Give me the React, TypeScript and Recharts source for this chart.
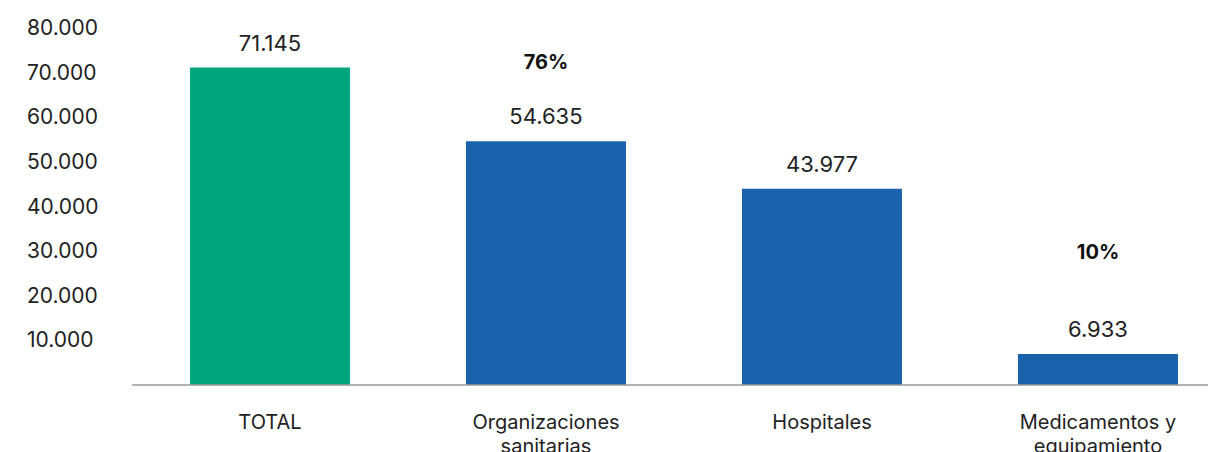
import { BarChart, Bar, XAxis, YAxis, Cell, LabelList, ReferenceDot } from 'recharts';

const categories = ['TOTAL', 'Organizaciones sanitarias', 'Hospitales', 'Medicamentos y equipamiento'];
const values = [71145, 54635, 43977, 6933];
const barColors = ['#00A67E', '#1B62AD', '#1B62AD', '#1B62AD'];
const yTicks = [10000, 20000, 30000, 40000, 50000, 60000, 70000, 80000];

// share labels, with the value height they sit at
const shareCats = ['Organizaciones sanitarias', 'Medicamentos y equipamiento'];
const shareLabels = ['76%', '10%'];
const shareLevels = [72400, 29800];

const data = categories.map((name, i) => ({ name, value: values[i] }));

const FONT = 'Inter, "Open Sans", sans-serif';
const fmt = (v: number) => v.toLocaleString('de-DE');

const YTick = (props: any) => {
  const { y, payload } = props;
  return (
    <text x={27} y={y} dy={7} fontSize={21} fill="#222" fontFamily={FONT} textAnchor="start">
      {fmt(payload.value)}
    </text>
  );
};

const XTick = (props: any) => {
  const { x, y, payload } = props;
  const label: string = payload.value;
  let lines = [label];
  if (label.length > 12 && label.includes(' ')) {
    const k = label.lastIndexOf(' ');
    lines = [label.slice(0, k), label.slice(k + 1)];
  }
  return (
    <g>
      {lines.map((l, i) => (
        <text key={i} x={x} y={y + 36 + i * 24} fontSize={20} fill="#222" fontFamily={FONT} textAnchor="middle">
          {l}
        </text>
      ))}
    </g>
  );
};

export default function App() {
  return (
    <div style={{ position: 'absolute', left: 0, top: 0, width: 1208, height: 452, overflow: 'hidden', background: '#fff' }}>
      <BarChart
        width={1240}
        height={452}
        data={data}
        margin={{ top: 28, right: 4, bottom: 0, left: 0 }}
        barCategoryGap="21%"
      >
        <XAxis
          dataKey="name"
          height={67}
          axisLine={{ stroke: '#999', strokeWidth: 1.5 }}
          tickLine={false}
          tick={<XTick />}
          interval={0}
        />
        <YAxis
          width={132}
          domain={[0, 80000]}
          ticks={yTicks}
          axisLine={false}
          tickLine={false}
          tick={<YTick />}
        />
        <Bar dataKey="value" isAnimationActive={false}>
          {data.map((d, i) => (
            <Cell key={d.name} fill={barColors[i]} />
          ))}
          <LabelList
            dataKey="value"
            position="top"
            offset={17}
            formatter={(v: any) => fmt(Number(v))}
            style={{ fontSize: 22, fill: '#222', fontFamily: FONT }}
          />
        </Bar>
        {shareCats.map((c, i) => (
          <ReferenceDot
            key={c}
            x={c}
            y={shareLevels[i]}
            r={0}
            fill="none"
            stroke="none"
            label={{
              value: shareLabels[i],
              position: 'center',
              style: { fontSize: 20, fontWeight: 700, fill: '#111', fontFamily: FONT },
            }}
          />
        ))}
      </BarChart>
    </div>
  );
}
